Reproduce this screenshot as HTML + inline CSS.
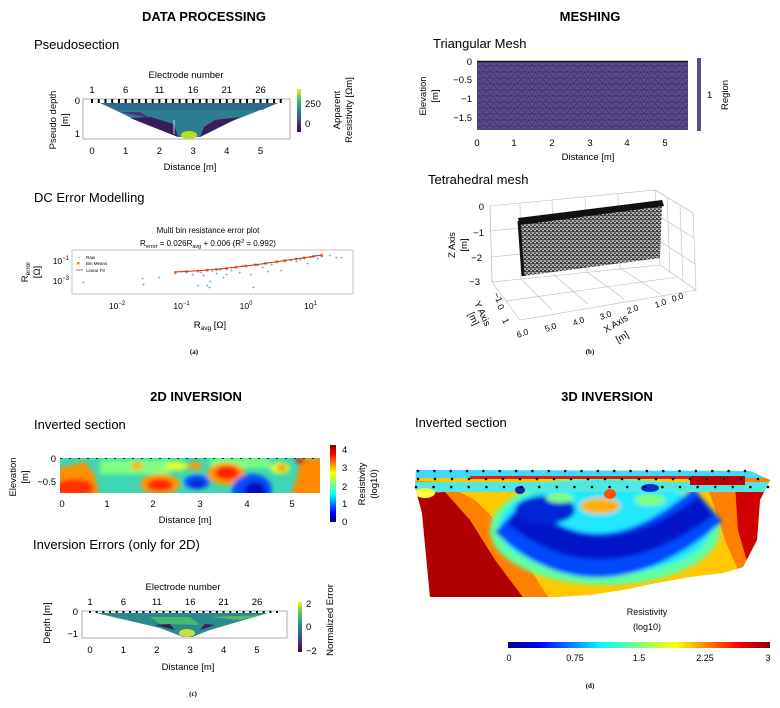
<!DOCTYPE html>
<html><head><meta charset="utf-8"><style>
html,body{margin:0;padding:0;background:#fff;}
svg{display:block;font-family:"Liberation Sans",Arial,sans-serif;}
</style></head><body>
<svg id="fig" width="780" height="708" viewBox="0 0 780 708" xmlns="http://www.w3.org/2000/svg">
<defs>
<linearGradient id="viridisV" x1="0" y1="1" x2="0" y2="0"><stop offset="0" stop-color="#440154"/><stop offset="0.3" stop-color="#3b528b"/><stop offset="0.55" stop-color="#21918c"/><stop offset="0.8" stop-color="#5ec962"/><stop offset="1" stop-color="#fde725"/></linearGradient>
<linearGradient id="jetV" x1="0" y1="1" x2="0" y2="0"><stop offset="0" stop-color="#00007f"/><stop offset="0.12" stop-color="#0000ff"/><stop offset="0.36" stop-color="#00ffff"/><stop offset="0.5" stop-color="#7fff7f"/><stop offset="0.64" stop-color="#ffff00"/><stop offset="0.88" stop-color="#ff0000"/><stop offset="1" stop-color="#7f0000"/></linearGradient>
<linearGradient id="jetH" x1="0" y1="0" x2="1" y2="0"><stop offset="0" stop-color="#00007f"/><stop offset="0.12" stop-color="#0000ff"/><stop offset="0.36" stop-color="#00ffff"/><stop offset="0.5" stop-color="#7fff7f"/><stop offset="0.64" stop-color="#ffff00"/><stop offset="0.88" stop-color="#ff0000"/><stop offset="1" stop-color="#7f0000"/></linearGradient>
<pattern id="trimesh" width="7" height="6" patternUnits="userSpaceOnUse"><path d="M0,6 L3.5,0 L7,6 M0,0 H7 M0,6 H7" stroke="#2e2456" stroke-width="0.5" fill="none"/></pattern>
<pattern id="speck" width="4" height="4" patternUnits="userSpaceOnUse"><rect width="4" height="4" fill="#3a3a3a"/><circle cx="1" cy="1" r="0.9" fill="#fff"/><circle cx="3" cy="2.6" r="0.8" fill="#eee"/><circle cx="3.2" cy="0.6" r="0.5" fill="#ccc"/></pattern>
<filter id="blur3" x="-20%" y="-20%" width="140%" height="140%"><feGaussianBlur stdDeviation="2.2"/></filter>
<filter id="blur2" x="-30%" y="-30%" width="160%" height="160%"><feGaussianBlur stdDeviation="2"/></filter>
<clipPath id="clipInv"><rect x="60" y="458" width="260" height="35"/></clipPath>
<clipPath id="clip3d"><polygon points="416,470 750,471 770,480 760,500 757,540 743,567 723,573 690,577 657,583 623,590 590,595 557,597 430,597 422,513 415,487"/></clipPath>
</defs>

<!-- ===== PANEL A ===== -->
<text x="204" y="21" text-anchor="middle" font-size="13" font-weight="bold">DATA PROCESSING</text>
<text x="34" y="49" font-size="13">Pseudosection</text>
<text x="186" y="78" text-anchor="middle" font-size="9.5">Electrode number</text>
<g id="pseudoTopTicks" font-size="9.5" text-anchor="middle"></g>
<g>
<rect x="83" y="99" width="207" height="40" fill="#fff" stroke="#999" stroke-width="0.8"/>
<polygon points="100,103 278,103 230,122 200,137 178,137 140,122" fill="#2c7e8e"/>
<polygon points="100,103 278,103 262,110 120,110" fill="#31688e"/>
<polygon points="130,118 178,137 174,124 150,117" fill="#3b1c5a"/>
<polygon points="200,137 240,117 215,120 204,127" fill="#3b1c5a"/>
<polygon points="120,112 150,118 140,112" fill="#46327e"/>
<ellipse cx="189" cy="135" rx="8" ry="4" fill="#b5de2b"/>
<line x1="174" y1="120" x2="174" y2="134" stroke="#fff" stroke-width="0.8"/>
<g id="pseudoElectrodes"></g>
</g>
<g id="pseudoYTicks" font-size="9.5" text-anchor="end"></g>
<g id="pseudoXTicks" font-size="9.5" text-anchor="middle"></g>
<text x="190" y="170" text-anchor="middle" font-size="9.5">Distance [m]</text>
<text transform="translate(56,120) rotate(-90)" text-anchor="middle" font-size="9.5">Pseudo depth</text>
<text transform="translate(68,120) rotate(-90)" text-anchor="middle" font-size="9.5">[m]</text>
<rect x="297" y="89" width="4" height="43" fill="url(#viridisV)"/>
<text x="305" y="107" font-size="9.5">250</text>
<text x="305" y="127" font-size="9.5">0</text>
<text transform="translate(340,110) rotate(-90)" text-anchor="middle" font-size="9.5">Apparent</text>
<text transform="translate(352,110) rotate(-90)" text-anchor="middle" font-size="9.5">Resistivity [Ωm]</text>

<text x="34" y="202" font-size="13">DC Error Modelling</text>
<text x="208" y="233" text-anchor="middle" font-size="8">Multi bin resistance error plot</text>
<text x="208" y="246" text-anchor="middle" font-size="8">R<tspan font-size="5.5" dy="2">error</tspan><tspan dy="-2"> = 0.026R</tspan><tspan font-size="5.5" dy="2">avg</tspan><tspan dy="-2"> + 0.006 (R</tspan><tspan font-size="5.5" dy="-3">2</tspan><tspan dy="3"> = 0.992)</tspan></text>
<rect x="72" y="250" width="281" height="44" fill="#fff" stroke="#aaa" stroke-width="0.7"/>
<g id="errMarks"></g>
<g>
<text x="78" y="259" font-size="4.5" fill="#1f9ac4">+</text><text x="86" y="259" font-size="4.5">Raw</text>
<rect x="77" y="262" width="2.5" height="2.5" fill="#ff7f0e"/><text x="86" y="265" font-size="4.5">Bin Means</text>
<line x1="76" y1="270" x2="83" y2="270" stroke="#d62728" stroke-width="0.8"/><text x="86" y="272" font-size="4.5">Linear Fit</text>
</g>
<g id="errYTicks" font-size="8.5" text-anchor="end"></g>
<g id="errXTicks" font-size="8.5" text-anchor="middle"></g>
<text x="210" y="328" text-anchor="middle" font-size="9.5">R<tspan font-size="6.5" dy="2">avg</tspan><tspan dy="-2"> [Ω]</tspan></text>
<text transform="translate(28,272) rotate(-90)" text-anchor="middle" font-size="9.5">R<tspan font-size="6.5" dy="2">error</tspan></text>
<text transform="translate(40,272) rotate(-90)" text-anchor="middle" font-size="9.5">[Ω]</text>
<text x="194" y="354" text-anchor="middle" font-size="7" font-weight="bold" font-family="Liberation Serif">(a)</text>

<!-- ===== PANEL B ===== -->
<text x="590" y="21" text-anchor="middle" font-size="13" font-weight="bold">MESHING</text>
<text x="433" y="48" font-size="13">Triangular Mesh</text>
<rect x="477" y="61" width="211" height="69" fill="#5b4a91"/>
<rect x="477" y="61" width="211" height="69" fill="url(#trimesh)"/>
<line x1="477" y1="61.5" x2="688" y2="61.5" stroke="#111" stroke-width="1.5"/>
<g font-size="9.5" text-anchor="end">
<text x="472" y="65">0</text><text x="472" y="83">−0.5</text><text x="472" y="102">−1</text><text x="472" y="121">−1.5</text></g>
<g font-size="9.5" text-anchor="middle">
<text x="477" y="146">0</text><text x="514" y="146">1</text><text x="552" y="146">2</text><text x="590" y="146">3</text><text x="627" y="146">4</text><text x="665" y="146">5</text></g>
<text x="588" y="160" text-anchor="middle" font-size="9.5">Distance [m]</text>
<text transform="translate(426,96) rotate(-90)" text-anchor="middle" font-size="9.5">Elevation</text>
<text transform="translate(438,96) rotate(-90)" text-anchor="middle" font-size="9.5">[m]</text>
<rect x="697" y="58" width="4" height="73" fill="#5b4a91"/>
<text x="707" y="98" font-size="9.5">1</text>
<text transform="translate(728,95) rotate(-90)" text-anchor="middle" font-size="9.5">Region</text>

<text x="428" y="184" font-size="13">Tetrahedral mesh</text>
<g stroke="#bbb" stroke-width="0.6" fill="none">
<polygon points="490,206 655,190 693,213 696,290 520,320 492,282"/>
<line x1="490" y1="206" x2="492" y2="282"/><line x1="655" y1="190" x2="660" y2="265"/><line x1="492" y1="282" x2="660" y2="265"/><line x1="660" y1="265" x2="696" y2="290"/>
<line x1="520" y1="203" x2="521" y2="278"/><line x1="552" y1="200" x2="554" y2="275"/><line x1="585" y1="197" x2="587" y2="272"/><line x1="618" y1="194" x2="620" y2="268"/>
<line x1="490" y1="231" x2="657" y2="215"/><line x1="491" y1="257" x2="658" y2="240"/>
<line x1="667" y1="198" x2="670" y2="273"/><line x1="680" y1="206" x2="683" y2="281"/>
<line x1="655" y1="190" x2="693" y2="213"/><line x1="657" y1="215" x2="694" y2="238"/><line x1="658" y1="240" x2="695" y2="264"/>
<line x1="520" y1="278" x2="552" y2="310"/><line x1="554" y1="275" x2="588" y2="304"/><line x1="587" y1="272" x2="624" y2="299"/><line x1="620" y1="268" x2="660" y2="294"/>
<line x1="506" y1="301" x2="677" y2="277"/>
</g>
<polygon points="518,221 662,203 660,258 523,276" fill="url(#speck)"/>
<polygon points="518,218 662,200 664,206 520,225" fill="#111"/>
<line x1="519" y1="221" x2="523" y2="276" stroke="#111" stroke-width="3"/>
<g font-size="9.5" text-anchor="end">
<text x="484" y="210">0</text><text x="484" y="236">−1</text><text x="482" y="261">−2</text><text x="480" y="285">−3</text></g>
<text transform="translate(455,245) rotate(-90)" text-anchor="middle" font-size="9.5">Z Axis</text>
<text transform="translate(467,245) rotate(-90)" text-anchor="middle" font-size="9.5">[m]</text>
<g font-size="9">
<text transform="translate(493,294) rotate(65)">−1</text><text transform="translate(497,306) rotate(65)">0</text><text transform="translate(502,320) rotate(65)">1</text></g>
<text transform="translate(474,303) rotate(65)" font-size="9.5">Y Axis</text>
<text transform="translate(468,314) rotate(65)" font-size="9.5">[m]</text>
<g font-size="8.5">
<text transform="translate(518,338) rotate(-20)">6.0</text><text transform="translate(546,332) rotate(-20)">5.0</text><text transform="translate(574,326) rotate(-20)">4.0</text><text transform="translate(601,320) rotate(-20)">3.0</text><text transform="translate(628,314) rotate(-20)">2.0</text><text transform="translate(656,308) rotate(-20)">1.0</text><text transform="translate(673,302) rotate(-20)">0.0</text></g>
<text transform="translate(606,333) rotate(-30)" font-size="9.5">X Axis</text>
<text transform="translate(618,343) rotate(-30)" font-size="9.5">[m]</text>
<text x="590" y="354" text-anchor="middle" font-size="7" font-weight="bold" font-family="Liberation Serif">(b)</text>

<!-- ===== PANEL C ===== -->
<text x="196" y="401" text-anchor="middle" font-size="13" font-weight="bold">2D INVERSION</text>
<text x="34" y="429" font-size="13">Inverted section</text>
<g clip-path="url(#clipInv)">
<rect x="60" y="458" width="260" height="35" fill="#3fd6b4"/>
<g filter="url(#blur3)">
<rect x="100" y="460" width="70" height="14" fill="#7fff7f"/>
<rect x="210" y="458" width="60" height="10" fill="#7fff7f"/>
<polygon points="50,470 85,462 95,475 100,500 50,500" fill="#ff9000"/>
<ellipse cx="74" cy="488" rx="20" ry="9" fill="#ff3000"/>
<ellipse cx="160" cy="484" rx="20" ry="10" fill="#ff9a00"/>
<ellipse cx="160" cy="485" rx="13" ry="6" fill="#ff2000"/>
<ellipse cx="137" cy="466" rx="6" ry="4" fill="#ffb000"/>
<ellipse cx="176" cy="466" rx="12" ry="5" fill="#d8ff30"/>
<ellipse cx="197" cy="482" rx="13" ry="7" fill="#0050ff"/>
<ellipse cx="197" cy="484" rx="7" ry="4" fill="#0020d0"/>
<ellipse cx="195" cy="466" rx="7" ry="4" fill="#ff9a00"/>
<ellipse cx="226" cy="474" rx="19" ry="11" fill="#ff9a00"/>
<ellipse cx="227" cy="473" rx="12" ry="7" fill="#ff2000"/>
<ellipse cx="252" cy="490" rx="20" ry="16" fill="#0050ff"/>
<ellipse cx="255" cy="491" rx="11" ry="9" fill="#0010c0"/>
<ellipse cx="280" cy="468" rx="10" ry="6" fill="#d8ff30"/>
<ellipse cx="282" cy="468" rx="5" ry="3" fill="#ff8000"/>
<polygon points="302,458 325,458 325,500 290,500" fill="#ff8a00"/>
<ellipse cx="300" cy="461" rx="4" ry="3" fill="#e00000"/>
</g>
<line x1="60" y1="458.5" x2="320" y2="458.5" stroke="#222" stroke-width="1" stroke-dasharray="2,7"/>
</g>
<g font-size="9.5" text-anchor="end"><text x="56" y="462">0</text><text x="56" y="485">−0.5</text></g>
<g font-size="9.5" text-anchor="middle">
<text x="62" y="507">0</text><text x="107" y="507">1</text><text x="153" y="507">2</text><text x="200" y="507">3</text><text x="247" y="507">4</text><text x="292" y="507">5</text></g>
<text x="185" y="523" text-anchor="middle" font-size="9.5">Distance [m]</text>
<text transform="translate(16,477) rotate(-90)" text-anchor="middle" font-size="9.5">Elevation</text>
<text transform="translate(28,477) rotate(-90)" text-anchor="middle" font-size="9.5">[m]</text>
<rect x="330" y="445" width="6" height="77" fill="url(#jetV)"/>
<g font-size="9.5"><text x="342" y="453">4</text><text x="342" y="471">3</text><text x="342" y="490">2</text><text x="342" y="507">1</text><text x="342" y="525">0</text></g>
<text transform="translate(365,484) rotate(-90)" text-anchor="middle" font-size="9.5">Resistivity</text>
<text transform="translate(377,484) rotate(-90)" text-anchor="middle" font-size="9.5">(log10)</text>

<text x="33" y="549" font-size="13">Inversion Errors (only for 2D)</text>
<text x="183" y="590" text-anchor="middle" font-size="9.5">Electrode number</text>
<g id="errTopTicks" font-size="9.5" text-anchor="middle"></g>
<g>
<rect x="82" y="611" width="205" height="27" fill="#fff" stroke="#999" stroke-width="0.8"/>
<polygon points="96,613 268,613 210,630 192,637 183,637 160,628" fill="#2a8a8c"/>
<polygon points="150,617 190,617 200,625 160,624" fill="#4ec36b" opacity="0.8"/>
<polygon points="155,625 175,630 170,624" fill="#3b1c5a"/>
<polygon points="200,630 215,625 205,624" fill="#3b1c5a"/>
<polygon points="110,617 130,620 115,618" fill="#9ddc4a"/>
<ellipse cx="187" cy="633" rx="8" ry="4" fill="#c5e03a"/>
<polygon points="210,617 260,615 240,620" fill="#6acd5b" opacity="0.7"/>
<g id="errElectrodes"></g>
</g>
<g font-size="9.5" text-anchor="end"><text x="78" y="615">0</text><text x="78" y="637">−1</text></g>
<g id="err2dXTicks" font-size="9.5" text-anchor="middle"></g>
<text x="188" y="670" text-anchor="middle" font-size="9.5">Distance [m]</text>
<text transform="translate(50,623) rotate(-90)" text-anchor="middle" font-size="9.5">Depth [m]</text>
<rect x="298" y="602" width="4" height="50" fill="url(#viridisV)"/>
<g font-size="9.5"><text x="306" y="607">2</text><text x="306" y="630">0</text><text x="306" y="654">−2</text></g>
<text transform="translate(333,620) rotate(-90)" text-anchor="middle" font-size="9.5">Normalized Error</text>
<text x="193" y="696" text-anchor="middle" font-size="7" font-weight="bold" font-family="Liberation Serif">(c)</text>

<!-- ===== PANEL D ===== -->
<text x="607" y="401" text-anchor="middle" font-size="13" font-weight="bold">3D INVERSION</text>
<text x="415" y="427" font-size="13">Inverted section</text>
<g clip-path="url(#clip3d)">
<rect x="400" y="460" width="380" height="150" fill="#ffc800"/>
<polygon points="400,480 440,482 475,500 505,530 550,600 400,610" fill="#ff8000"/>
<polygon points="400,495 445,492 470,520 495,560 525,600 400,610" fill="#b00000"/>
<polygon points="700,470 780,470 780,610 740,575 725,540 712,500" fill="#ff8000"/>
<polygon points="735,485 780,485 780,580 750,572 738,530" fill="#d00000"/>
<g filter="url(#blur2)">
<ellipse cx="605" cy="530" rx="115" ry="55" fill="#60ffa0"/>
<ellipse cx="605" cy="527" rx="106" ry="47" fill="#20e8ff"/>
<path d="M510,516 Q598,600 708,505" stroke="#0048ff" stroke-width="44" fill="none"/>
<path d="M515,514 Q600,585 706,506" stroke="#0018c8" stroke-width="24" fill="none"/>
<ellipse cx="545" cy="510" rx="30" ry="14" fill="#0028d8"/>
<ellipse cx="600" cy="506" rx="20" ry="8" fill="#ffb000"/>
<ellipse cx="560" cy="498" rx="14" ry="5" fill="#80ff80"/>
<ellipse cx="650" cy="500" rx="16" ry="6" fill="#80ff80"/>
</g>
<rect x="400" y="466" width="380" height="12" fill="#40d8ff"/>
<rect x="400" y="482" width="380" height="10" fill="#50e8e0"/>
<rect x="470" y="476" width="250" height="3" fill="#e02000"/>
<rect x="690" y="476" width="55" height="9" fill="#c00000"/>
<ellipse cx="650" cy="488" rx="9" ry="4" fill="#0030d0"/>
<ellipse cx="520" cy="490" rx="5" ry="4" fill="#2020b0"/>
<ellipse cx="610" cy="494" rx="6" ry="5" fill="#ff5000"/>
<ellipse cx="425" cy="493" rx="10" ry="5" fill="#ffff40"/>
</g>
<g id="dots3d"></g>
<text x="647" y="615" text-anchor="middle" font-size="9">Resistivity</text>
<text x="647" y="630" text-anchor="middle" font-size="9">(log10)</text>
<rect x="508" y="642" width="262" height="6" fill="url(#jetH)"/>
<g font-size="9" text-anchor="middle"><text x="509" y="661">0</text><text x="575" y="661">0.75</text><text x="639" y="661">1.5</text><text x="705" y="661">2.25</text><text x="768" y="661">3</text></g>
<text x="590" y="688" text-anchor="middle" font-size="7" font-weight="bold" font-family="Liberation Serif">(d)</text>
</svg>
<script>
const NS="http://www.w3.org/2000/svg";
// ---- chart data ----
const electrodeTickLabels=["1","6","11","16","21","26"];
const distanceTickLabels=["0","1","2","3","4","5"];
const pseudoDepthTicks=["0","1"];
const rawRavg=[0.003,0.025,0.026,0.045,0.08,0.1,0.12,0.15,0.18,0.2,0.22,0.25,0.27,0.3,0.35,0.4,0.45,0.5,0.6,0.7,0.8,0.9,1.0,1.2,1.3,1.5,1.8,2,2.5,3,3.5,4,5,6,7,8,9,10,12,13,15,20,25,30,0.5,0.28,0.6,2.2];
const rawRerr=[0.0006,0.0015,0.0004,0.002,0.005,0.008,0.006,0.004,0.0003,0.007,0.003,0.0003,0.0002,0.009,0.005,0.012,0.002,0.015,0.01,0.02,0.006,0.03,0.025,0.004,0.0002,0.035,0.02,0.05,0.04,0.07,0.01,0.08,0.1,0.09,0.12,0.15,0.05,0.2,0.3,0.15,0.25,0.35,0.2,0.2,0.004,0.0008,0.02,0.008];
const binRavg=[0.08,0.12,0.18,0.25,0.35,0.5,0.7,1,1.4,2,3,4,6,8,11,15];
const binRerr=[0.007,0.009,0.01,0.012,0.014,0.018,0.024,0.032,0.042,0.058,0.085,0.11,0.16,0.21,0.29,0.39];
const fitSlope=0.026, fitIntercept=0.006;
const errXTickExp=[-2,-1,0,1];
const errYTickExp=[-1,-3];
const electrodeCount=29;

// axis functions
const pX=d=>92+d*33.7;
const eX=d=>90+d*33.4;
const lx=v=>246+Math.log10(v)*64.5;
const ly=v=>261-(Math.log10(v)+1)*10;

function txt(parent,x,y,s,name){const t=document.createElementNS(NS,"text");t.setAttribute("x",x);t.setAttribute("y",y);t.textContent=s;


parent.appendChild(t);return t;}

const g1=document.getElementById("pseudoTopTicks");
electrodeTickLabels.forEach((s,i)=>txt(g1,pX(i),93,s,'electrode-tick-'+s));
const g2=document.getElementById("pseudoXTicks");
distanceTickLabels.forEach((s,i)=>txt(g2,pX(i),154,s,'pseudo-x-tick-'+s));
const g3=document.getElementById("pseudoYTicks");
pseudoDepthTicks.forEach((s,i)=>txt(g3,80,104+i*33,s,'pseudo-y-tick-'+s));
const g4=document.getElementById("errTopTicks");
electrodeTickLabels.forEach((s,i)=>txt(g4,eX(i),605,s,'err2d-electrode-tick-'+s));
const g5=document.getElementById("err2dXTicks");
distanceTickLabels.forEach((s,i)=>txt(g5,eX(i),653,s,'err2d-x-tick-'+s));

function elec(gid,fx,y,h){const g=document.getElementById(gid);
for(let i=0;i<electrodeCount;i++){const r=document.createElementNS(NS,"rect");
r.setAttribute("x",fx(i*0.2)-1);r.setAttribute("y",y);r.setAttribute("width",2);r.setAttribute("height",h);r.setAttribute("fill","#000");


g.appendChild(r);}}
elec("pseudoElectrodes",pX,99,4);
elec("errElectrodes",eX,611,2);

const em=document.getElementById("errMarks");
rawRavg.forEach((v,i)=>{const t=document.createElementNS(NS,"text");t.setAttribute("x",lx(v));t.setAttribute("y",ly(rawRerr[i])+1.5);
t.setAttribute("font-size","5");t.setAttribute("text-anchor","middle");t.setAttribute("fill","#1f9ac4");t.textContent="+";


em.appendChild(t);});
binRavg.forEach((v,i)=>{const r=document.createElementNS(NS,"rect");r.setAttribute("x",lx(v)-1.3);r.setAttribute("y",ly(binRerr[i])-1.3);
r.setAttribute("width",2.6);r.setAttribute("height",2.6);r.setAttribute("fill","#ff7f0e");


em.appendChild(r);});
const fx0=binRavg[0],fx1=binRavg[binRavg.length-1];
let d="";for(let k=0;k<=20;k++){const v=fx0*Math.pow(fx1/fx0,k/20);d+=(k?"L":"M")+lx(v).toFixed(1)+","+ly(fitSlope*v+fitIntercept).toFixed(1);}
const fl=document.createElementNS(NS,"path");fl.setAttribute("d",d);fl.setAttribute("stroke","#d62728");fl.setAttribute("stroke-width","1");fl.setAttribute("fill","none");


em.appendChild(fl);
const gx=document.getElementById("errXTicks");
errXTickExp.forEach(e=>{const t=txt(gx,lx(Math.pow(10,e)),309,"10",'error-x-tick');const s=document.createElementNS(NS,"tspan");s.setAttribute("font-size","6");s.setAttribute("dy","-4");s.textContent=String(e).replace("-","−");t.appendChild(s);});
const gy=document.getElementById("errYTicks");
errYTickExp.forEach(e=>{const t=txt(gy,69,ly(Math.pow(10,e))+3,"10",'error-y-tick');const s=document.createElementNS(NS,"tspan");s.setAttribute("font-size","6");s.setAttribute("dy","-4");s.textContent=String(e).replace("-","−");t.appendChild(s);});

const gd=document.getElementById("dots3d");
[[418,471,745,21],[418,479,758,21],[416,487,768,21]].forEach(r=>{for(let i=0;i<r[3];i++){const c=document.createElementNS(NS,"circle");
c.setAttribute("cx",r[0]+(r[2]-r[0])*i/(r[3]-1));c.setAttribute("cy",r[1]);c.setAttribute("r",1.3);c.setAttribute("fill","#000");


gd.appendChild(c);}});
</script>
</body></html>
